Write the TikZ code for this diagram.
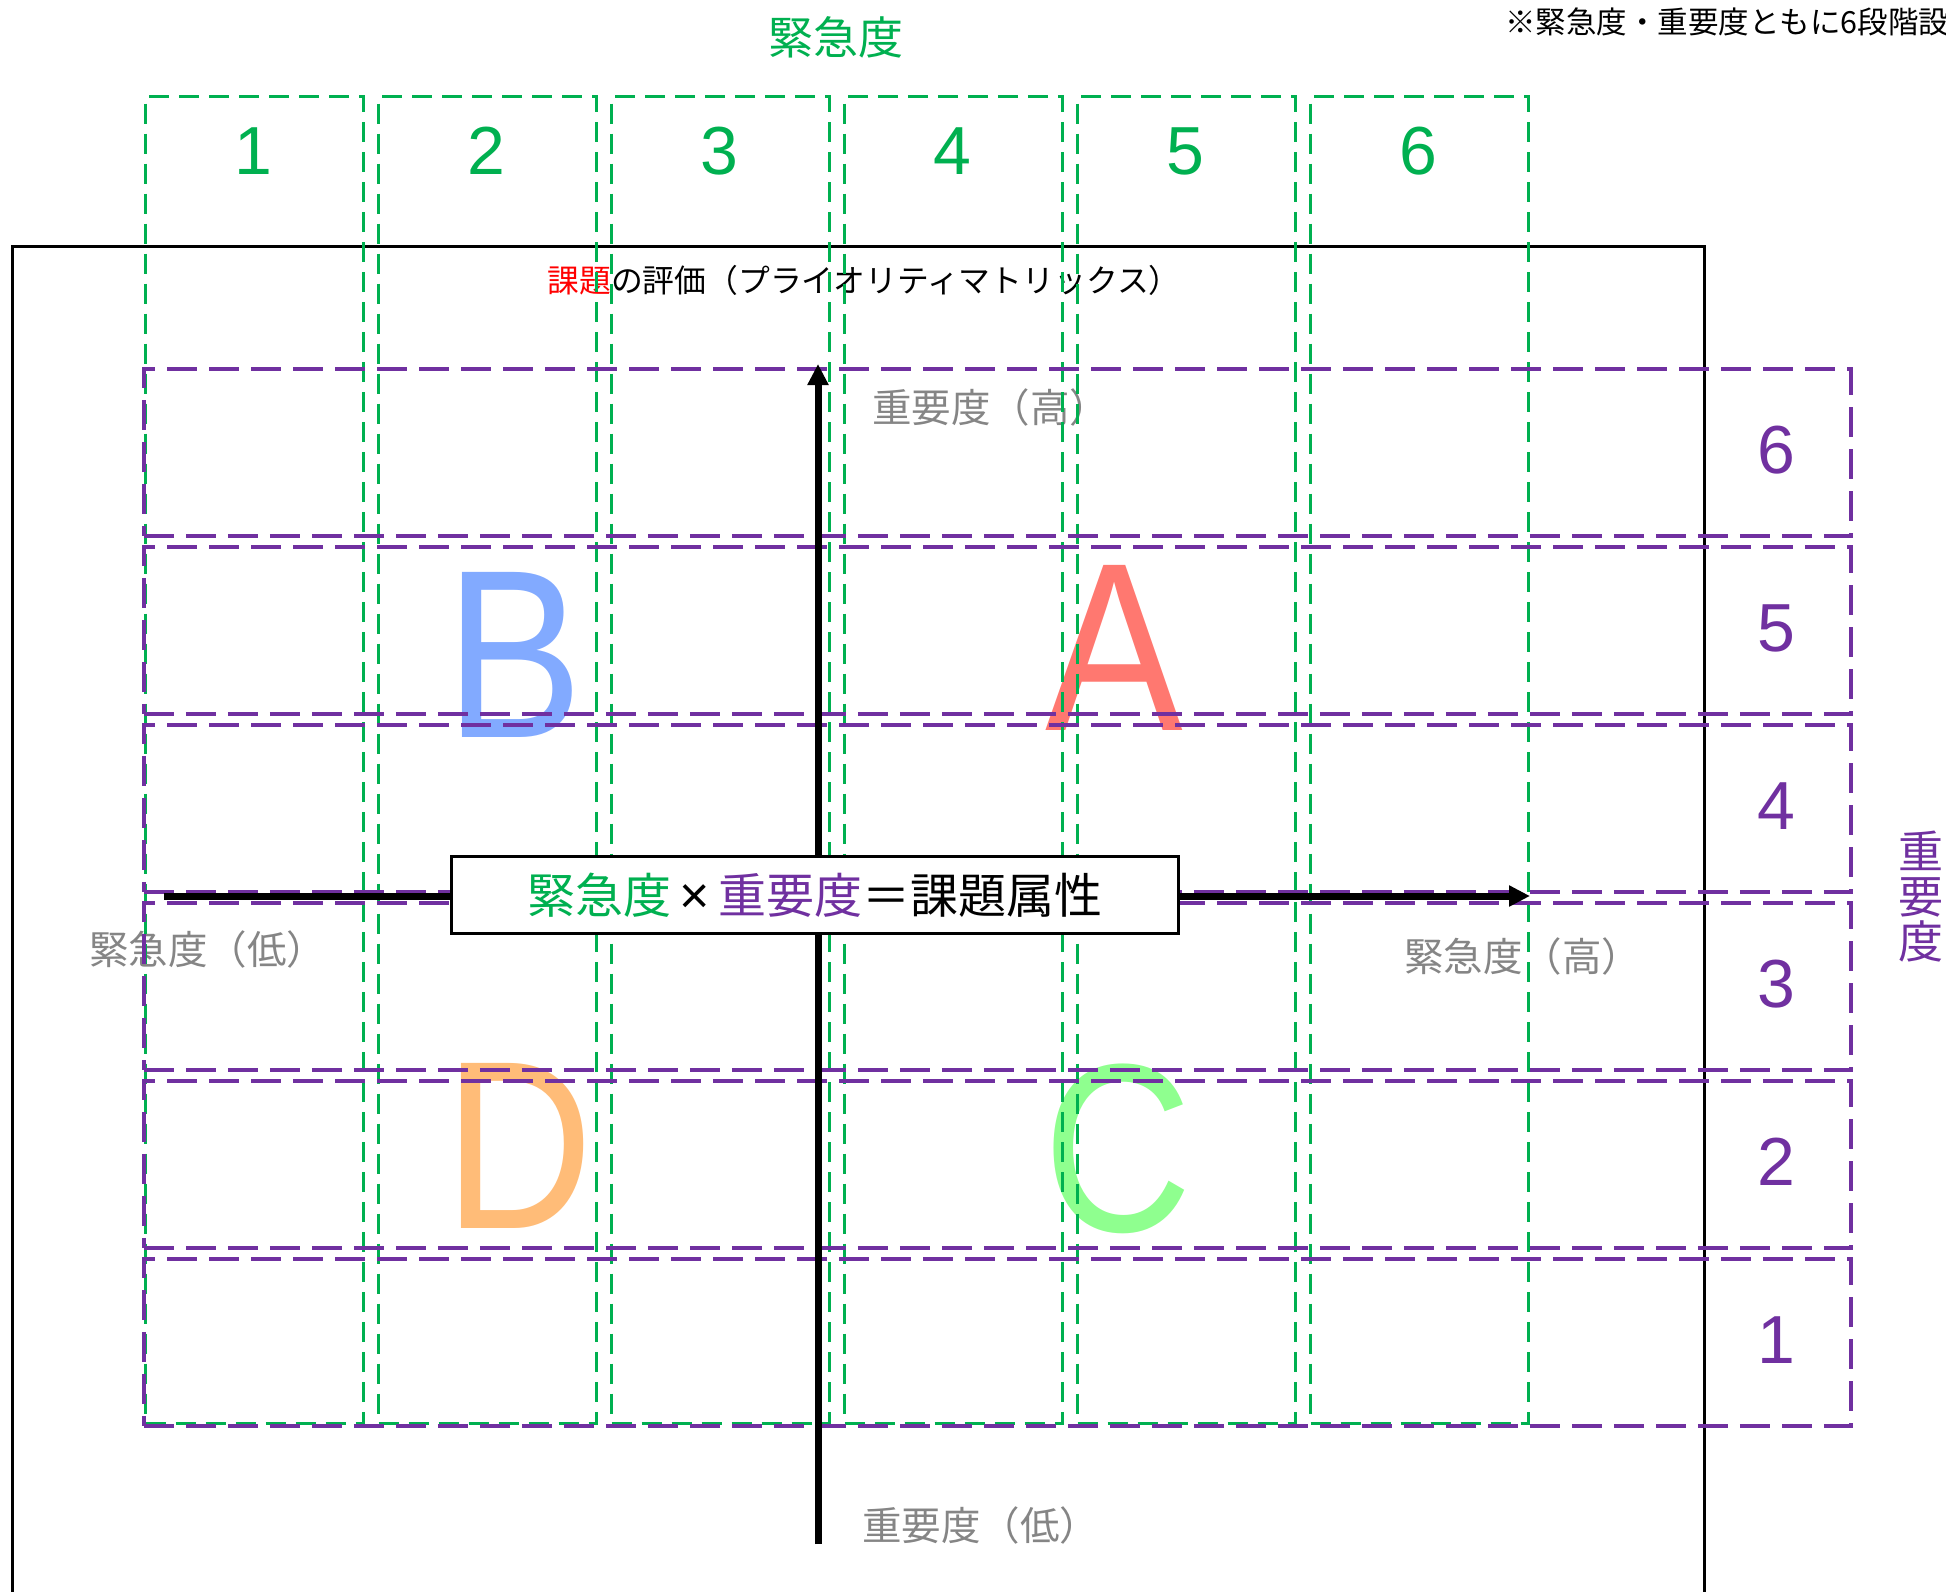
\documentclass[tikz,border=0pt]{standalone}
\usepackage{fontspec}
\usepackage{graphicx}
\setmainfont{Noto Sans CJK JP}
\newfontfamily\latinfont{Liberation Sans}
\usetikzlibrary{arrows.meta}
\definecolor{ggreen}{HTML}{00B050}
\definecolor{gpurple}{HTML}{7030A0}
\definecolor{lblue}{HTML}{82AAFF}
\definecolor{lred}{HTML}{FF7870}
\definecolor{lorange}{HTML}{FFBC78}
\definecolor{lgreen}{HTML}{8FFF8F}
\definecolor{lgrey}{HTML}{858585}
\newcommand{\setfs}[1]{\fontsize{#1}{#1}\selectfont}
\begin{document}
\begin{tikzpicture}[x=1pt,y=-1pt,
  gcol/.style={draw=ggreen, line width=3pt, dash pattern=on 20pt off 10pt, inner sep=0pt,
    minimum width=218pt, minimum height=1327pt, anchor=north west},
  prow/.style={draw=gpurple, line width=3.5pt, dash pattern=on 30pt off 12pt, inner sep=0pt,
    minimum width=1707pt, minimum height=167pt, anchor=north west},
  gnum/.style={text=ggreen, font=\latinfont\setfs{68}, inner sep=0pt},
  pnum/.style={text=gpurple, font=\latinfont\setfs{68}, inner sep=0pt},
  axisarrow/.style={line width=7pt, -{Triangle[length=21pt,width=20pt]}},
  graylabel/.style={text=lgrey, font=\setfs{39.5}, inner sep=0pt},
  bigletter/.style={font=\latinfont\setfs{240}, inner sep=0pt},
]
\clip (0,0) rectangle (1946,1591);
\useasboundingbox (0,0) rectangle (1946,1591);

% outer frame
\node[draw=black, line width=3pt, minimum width=1692pt, minimum height=1400pt,
  anchor=north west, inner sep=0pt] (frame) at (11,245) {};

% titles
\node[text=ggreen, font=\setfs{45}, inner sep=0pt] (ttl) at (836,37) {緊急度};
\node[anchor=west, font=\setfs{30.5}, inner sep=0pt] (note) at (1505,22) {※緊急度・重要度ともに6段階設定};
\node[font=\setfs{31.8}, inner sep=0pt] (title) at (864,280) {\textcolor{red}{課題}の評価（プライオリティマトリックス）};
\node[text=gpurple, font=\setfs{45}, align=center, inner sep=0pt] (vlabel) at (1921,897) {重\\要\\度};

% gray axis labels
\node[graylabel, anchor=west] (hiI) at (872,407) {重要度（高）};
\node[graylabel, anchor=west] (loI) at (862,1525) {重要度（低）};
\node[graylabel, anchor=west] (loU) at (89,949) {緊急度（低）};
\node[graylabel, anchor=west] (hiU) at (1404,956) {緊急度（高）};

% big letters
\node[bigletter, text=lblue] (B) at (514,655) {\scalebox{0.86}[1]{B}};
\node[bigletter, text=lred] (A) at (1114,648) {\scalebox{0.86}[1]{A}};
\node[bigletter, text=lorange] (D) at (519,1146) {\scalebox{0.86}[1]{D}};
\node[bigletter, text=lgreen] (C) at (1118,1149) {\scalebox{0.86}[1]{C}};

% green columns (urgency)
\foreach \k in {1,...,6} {
  \node[gcol] (c\k) at ({144+(\k-1)*233},95) {};
  \node[gnum] (cn\k) at ({253+(\k-1)*233},151) {\k};
}
% purple rows (importance)
\foreach \k in {1,...,6} {
  \node[prow] (r\k) at (142,{367+(6-\k)*178}) {};
  \node[pnum] (rn\k) at (1776,{450+(6-\k)*178}) {\k};
}

% axes
\coordinate (vbot) at (818,1544);
\coordinate (vtop) at (818,364);
\coordinate (hleft) at (164,896);
\coordinate (hright) at (1530,896);
\draw[axisarrow] (vbot) -- (vtop);
\draw[axisarrow] (hleft) -- (hright);

% formula box
\node[draw=black, line width=2.5pt, fill=white, minimum width=727pt, minimum height=77pt,
  inner sep=0pt, font=\setfs{48}] (formula) at (815,895)
  {\textcolor{ggreen}{緊急度}\,{\latinfont\fontsize{52}{52}\selectfont ×}\,\textcolor{gpurple}{重要度}＝課題属性};
\end{tikzpicture}
\end{document}
